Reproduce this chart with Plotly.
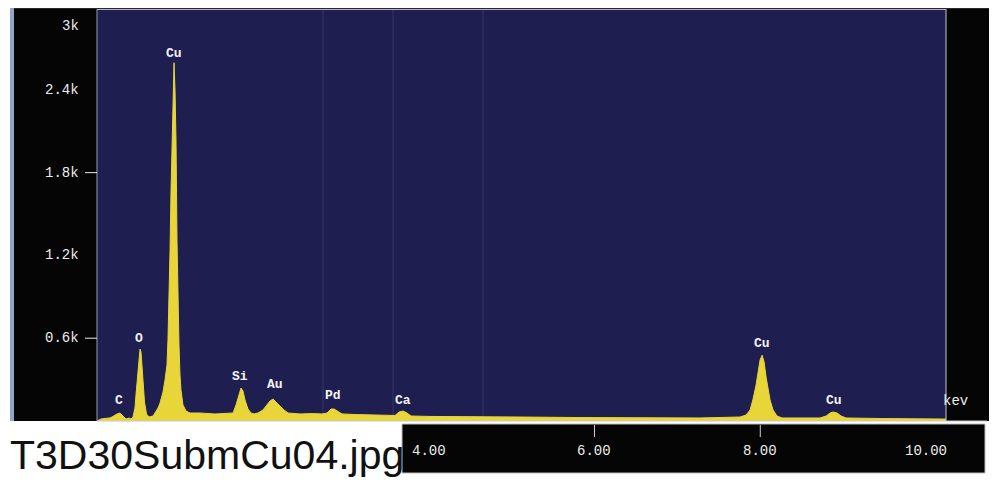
import plotly.graph_objects as go

# ---------------- data ----------------
energy_kev = [0.00, 0.05, 0.15, 0.181, 0.241, 0.277, 0.314, 0.350, 0.386, 0.410,
              0.434, 0.458, 0.470, 0.489, 0.507, 0.519, 0.531, 0.543, 0.555, 0.573,
              0.597, 0.627, 0.676,
              0.700, 0.736, 0.760, 0.796, 0.820, 0.844, 0.856, 0.869, 0.881, 0.893,
              0.905, 0.917, 0.929, 0.941, 0.953, 0.965, 0.977, 0.989, 1.001, 1.013,
              1.037, 1.074, 1.122,
              1.242, 1.423, 1.580,
              1.641, 1.677, 1.713, 1.737, 1.761, 1.785, 1.821, 1.858, 1.894,
              1.942, 2.002, 2.051, 2.087, 2.123, 2.159, 2.207, 2.256, 2.304, 2.449,
              2.594, 2.714,
              2.774, 2.823, 2.859, 2.907, 2.955, 3.112, 3.293, 3.474,
              3.595, 3.643, 3.691, 3.739, 3.788, 4.017, 4.499, 5.103, 5.826, 6.550,
              7.274,
              7.756, 7.829, 7.877, 7.913, 7.949, 7.973, 7.997, 8.022, 8.046, 8.070,
              8.094, 8.118, 8.154, 8.202, 8.263, 8.601,
              8.721, 8.794, 8.842, 8.878, 8.926, 8.975, 9.035, 9.445, 9.928, 10.241]
counts = [0, 15, 22, 29, 51, 58, 36, 14, 22, 14,
          29, 94, 188, 333, 477, 521, 499, 405, 260, 137,
          51, 29, 36,
          58, 94, 130, 210, 296, 405, 586, 875, 1236, 1670,
          2032, 2357, 2596, 2393, 2032, 1309, 803, 549, 333, 224,
          116, 72, 58,
          58, 51, 54,
          58, 116, 202, 239, 217, 152, 87, 58, 51,
          58, 80, 123, 145, 159, 137, 108, 80, 58, 51,
          54, 51,
          58, 87, 87, 72, 51, 47, 43, 40,
          40, 65, 72, 58, 36, 33, 29, 29, 25, 25,
          22,
          29, 43, 80, 159, 260, 354, 441, 477, 427, 318,
          224, 152, 80, 36, 22, 22,
          22, 36, 58, 65, 58, 36, 22, 18, 14, 14]

peak_labels = ["C", "O", "Cu", "Si", "Au", "Pd", "Ca", "Cu", "Cu"]
peak_kev = [0.265, 0.51, 0.93, 1.725, 2.147, 2.85, 3.695, 8.018, 8.89]
peak_label_counts = [145, 598, 2663, 320, 268, 188, 152, 562, 147]

y_tick_vals = [3000, 2400, 1800, 1200, 600]
y_tick_text = ["3k", "2.4k", "1.8k", "1.2k", "0.6k"]
y_dash_vals = [1800, 600]

x_tick_vals = [4, 6, 8, 10]
x_tick_text = ["4.00", "6.00", "8.00", "10.00"]
x_tick_marks = [6, 8]

artifact_lines_kev = [2.726, 3.571, 4.656]

title_text = "T3D30SubmCu04.jpg"
unit_text = "kev"

# ---------------- layout helpers ----------------
# the page body has an 8px margin, so the figure is placed at (8, 8) in the window
OFF = 8
W, H = 997 - OFF, 485 - OFF
def px(x):
    return (x - OFF) / W
def py(y):
    return 1 - (y - OFF) / H

X_RANGE = [0, 10.24]
Y_RANGE = [0, 2986]

YELLOW = "#e8d53a"
NAVY = "#1e1f50"
LABEL = "#ececec"

fig = go.Figure()
fig.add_trace(go.Scatter(
    x=energy_kev, y=counts, mode="lines", fill="tozeroy",
    line=dict(color=YELLOW, width=1), fillcolor=YELLOW,
    hoverinfo="x+y", showlegend=False))

shapes = []
def rect(x0, y0, x1, y1, color, line=None):
    shapes.append(dict(type="rect", xref="paper", yref="paper",
                       x0=px(x0), x1=px(x1), y0=py(y1), y1=py(y0),
                       fillcolor=color, line=line or dict(width=0), layer="below"))

# frame pieces
rect(10, 8, 997, 9, "#2a2a2e")
rect(10, 8, 14, 421, "#8ea4c8")
rect(14, 9, 97, 421, "#050505")
rect(97, 9, 946, 421, NAVY)
rect(946, 9, 997, 421, "#050505")
rect(402, 424, 985, 473, "#050505", dict(color="#bdbdbd", width=1))

def pline(x0, y0, x1, y1, color, width=1):
    shapes.append(dict(type="line", xref="paper", yref="paper",
                       x0=px(x0), x1=px(x1), y0=py(y0), y1=py(y1),
                       line=dict(color=color, width=width), layer="above"))

pline(97, 9, 97, 421, "#9a9aa6")
pline(97, 9.5, 946, 9.5, "#b4b4c0")
pline(946, 9, 946, 421, "#c8c8d0")
pline(97, 421, 987, 421, "#c8c8c8")

for xv in artifact_lines_kev:
    shapes.append(dict(type="line", xref="x", yref="paper", x0=xv, x1=xv,
                       y0=py(421), y1=py(10), line=dict(color="rgba(120,90,140,0.35)", width=1),
                       layer="below"))

for v in y_dash_vals:
    shapes.append(dict(type="line", xref="paper", yref="y", x0=px(85), x1=px(97),
                       y0=v, y1=v, line=dict(color=LABEL, width=1)))

for v in x_tick_marks:
    shapes.append(dict(type="line", xref="x", yref="paper", x0=v, x1=v,
                       y0=py(425), y1=py(437), line=dict(color="#cfcfcf", width=1)))

annotations = []
for lab, xv, yv in zip(peak_labels, peak_kev, peak_label_counts):
    annotations.append(dict(x=xv, y=yv, xref="x", yref="y", text="<b>%s</b>" % lab,
                            showarrow=False, font=dict(family="Liberation Mono", size=13, color="#f4f4f4")))

for v, t in zip(y_tick_vals, y_tick_text):
    top = v > Y_RANGE[1]
    annotations.append(dict(x=px(81), y=min(v, Y_RANGE[1]), xref="paper", yref="y", text=t,
                            xanchor="right", yanchor="top" if top else "middle",
                            yshift=-7 if top else 0,
                            showarrow=False, font=dict(family="Liberation Mono", size=14, color=LABEL)))

for v, t in zip(x_tick_vals, x_tick_text):
    annotations.append(dict(x=v, y=py(461), xref="x", yref="paper", text=t,
                            showarrow=False, font=dict(family="Liberation Mono", size=14, color=LABEL)))

annotations.append(dict(x=px(970), y=py(411), xref="paper", yref="paper", text=unit_text,
                        showarrow=False, font=dict(family="Liberation Mono", size=14, color=LABEL)))

annotations.append(dict(x=px(8), y=py(455), xref="paper", yref="paper", text=title_text,
                        xanchor="left", yanchor="middle", showarrow=False,
                        font=dict(family="Liberation Sans, Arial", size=41, color="#111111")))

fig.update_layout(
    width=W, height=H, margin=dict(l=0, r=0, t=0, b=0),
    paper_bgcolor="white", plot_bgcolor="rgba(0,0,0,0)",
    xaxis=dict(domain=[px(97), px(946)], range=X_RANGE, visible=False, fixedrange=True),
    yaxis=dict(domain=[py(421), py(9)], range=Y_RANGE, visible=False, fixedrange=True),
    shapes=shapes, annotations=annotations, showlegend=False,
)

fig.write_html("out.html")
